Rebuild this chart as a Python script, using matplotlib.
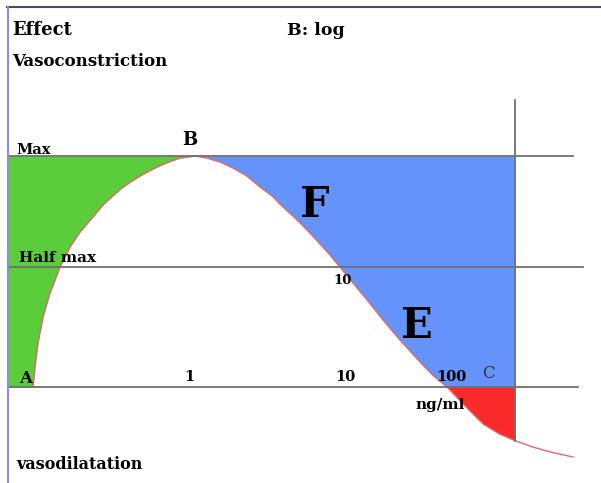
import numpy as np
import matplotlib.pyplot as plt

# schematic dose position (pixel-like units) and effect (0 = baseline, 1 = max)
dose_pos = [33, 35, 38, 43, 50, 60, 70, 80, 93, 103, 113, 122, 132, 140, 150,
            160, 170, 180, 195,
            207, 220, 233, 247, 260, 272, 283, 295, 307, 320, 330, 340, 353,
            367, 383, 400, 420, 433, 447, 467, 483, 500, 515, 533, 550, 573]
effect = [0.0, 0.087, 0.190, 0.303, 0.407, 0.519, 0.606, 0.671, 0.736, 0.788,
          0.828, 0.862, 0.892, 0.913, 0.937, 0.958, 0.976, 0.991, 1.0,
          0.991, 0.974, 0.948, 0.913, 0.866, 0.827, 0.779, 0.732, 0.680,
          0.619, 0.571, 0.519, 0.450, 0.377, 0.290, 0.203, 0.108, 0.050, 0.0,
          -0.091, -0.160, -0.205, -0.232, -0.260, -0.281, -0.303]

levels = {'Max': 1.0, 'Half max': 0.519, 'Zero': 0.0}
dose_labels = ['1', '10', '100']
dose_label_pos = [189, 345, 451]

x = np.array(dose_pos, dtype=float)
y = np.array(effect)

fig = plt.figure(figsize=(6.01, 4.83), dpi=100)
ax = fig.add_axes([0, 0, 1, 1])
ax.set_xlim(0, 601)
ax.set_ylim(-96 / 231, 387 / 231)
ax.axis('off')

left_edge = 8
right_edge = 515

# green: rising limb, between left edge and curve
rise = x <= 195
ax.fill_betweenx(y[rise], left_edge, x[rise], color='#5ccd3a', lw=0)
# pink cap around the peak
cap = (x >= 180) & (x <= 207)
ax.fill_between(x[cap], y[cap], 1.0, color='#f0b4b4', lw=0)
# blue: falling limb above zero up to Max
fall = (x >= 207) & (x <= right_edge)
ax.fill_between(x[fall], np.maximum(y[fall], 0), 1.0, color='#6493fb', lw=0)
# red: below zero
neg = (x >= 447) & (x <= right_edge)
ax.fill_between(x[neg], y[neg], 0, color='#fb2a2a', lw=0)

ax.plot(x, y, color='#e06a6a', lw=1)

# reference lines
ax.plot([left_edge, 573], [levels['Max']] * 2, color='#707070', lw=1.3)
ax.plot([left_edge, 583], [levels['Half max']] * 2, color='#707070', lw=1.3)
ax.plot([left_edge, 578], [levels['Zero']] * 2, color='#707070', lw=1.3)
ax.plot([right_edge, right_edge], [1.242, -0.234], color='#707070', lw=1.3)

# frame
ax.plot([7, 601], [1.645, 1.645], color='#4a4a6a', lw=1.5)
ax.plot([left_edge, left_edge], [1.645, -96 / 231], color='#8c8ce8', lw=1.5)

serif = 'DejaVu Serif'
ax.text(12, 1.545, 'Effect', fontsize=13, fontweight='bold', family=serif,
        va='center', ha='left')
ax.text(287, 1.545, 'B: log', fontsize=12.5, fontweight='bold', family=serif,
        va='center', ha='left')
ax.text(12, 1.41, 'Vasoconstriction', fontsize=12, fontweight='bold',
        family=serif, va='center', ha='left')
ax.text(16, 1.025, 'Max', fontsize=10.5, fontweight='bold', family=serif,
        va='center', ha='left')
ax.text(190, 1.069, 'B', fontsize=13, fontweight='bold', family=serif,
        va='center', ha='center')
ax.text(315, 0.788, 'F', fontsize=30, fontweight='bold', family=serif,
        va='center', ha='center')
ax.text(19, 0.56, 'Half max', fontsize=11, fontweight='bold', family=serif,
        va='center', ha='left')
ax.text(343, 0.463, '10', fontsize=9.5, fontweight='bold', family=serif,
        va='center', ha='center')
ax.text(417, 0.264, 'E', fontsize=30, fontweight='bold', family=serif,
        va='center', ha='center')
ax.text(26, 0.035, 'A', fontsize=12, fontweight='bold', family=serif,
        va='center', ha='center')
for lab, pos in zip(dose_labels, dose_label_pos):
    ax.text(pos, 0.045, lab, fontsize=10.5, fontweight='bold', family=serif,
            va='center', ha='center')
ax.text(488, 0.06, 'C', fontsize=12, family=serif, color='#333333',
        va='center', ha='center')
ax.text(440, -0.08, 'ng/ml', fontsize=11, fontweight='bold', family=serif,
        va='center', ha='center')
ax.text(16, -0.337, 'vasodilatation', fontsize=11.5, fontweight='bold',
        family=serif, va='center', ha='left')

fig.savefig('out.png', dpi=100)
